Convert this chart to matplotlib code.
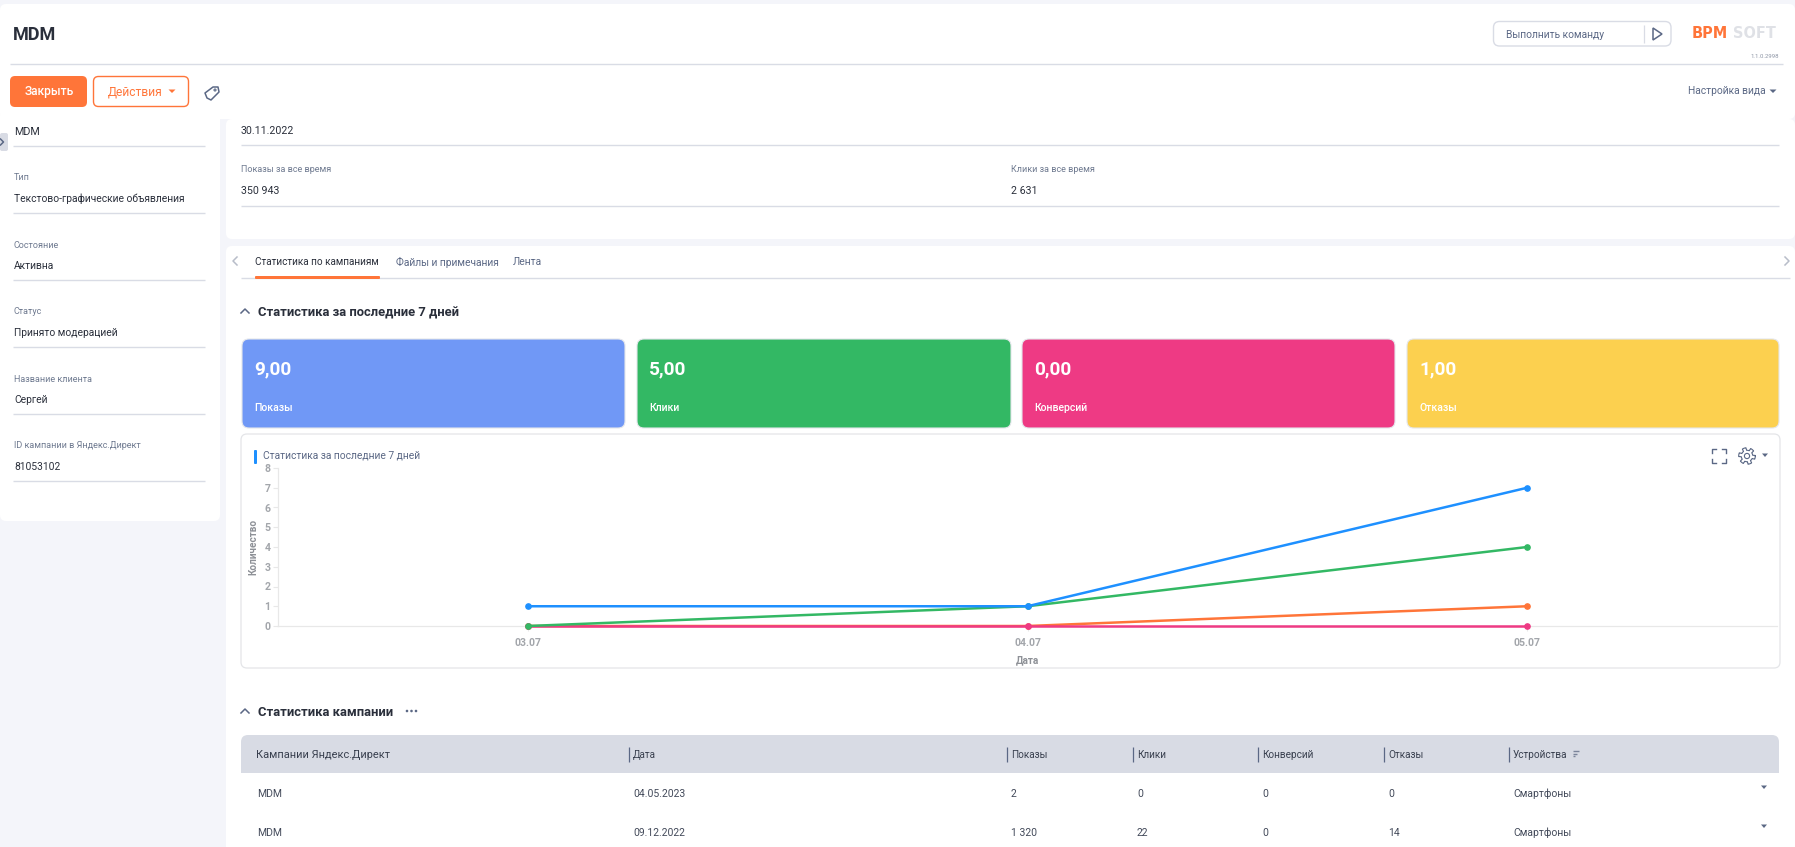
import numpy as np
import matplotlib
matplotlib.use('Agg')
import matplotlib.pyplot as plt
from matplotlib.patches import FancyBboxPatch, Rectangle, Circle, Polygon

plt.rcParams['font.family'] = ['Roboto', 'DejaVu Sans']

W = 1795
H = 847

# chart data
dates = ['03.07', '04.07', '05.07']
shows = [1, 1, 7]
clicks = [0, 1, 4]
bounces = [0, 0, 1]
conversions = [0, 0, 0]
y_ticks = [0, 1, 2, 3, 4, 5, 6, 7, 8]

# cards
card_values = ['9,00', '5,00', '0,00', '1,00']
card_names = ['Показы', 'Клики', 'Конверсий', 'Отказы']

# left form
form_labels = ['Тип', 'Состояние', 'Статус', 'Название клиента', 'ID кампании в Яндекс.Директ']
form_values = ['Текстово-графические объявления', 'Активна', 'Принято модерацией', 'Сергей', '81053102']

# table
table_columns = ['Кампании Яндекс.Директ', 'Дата', 'Показы', 'Клики', 'Конверсий', 'Отказы', 'Устройства']
table_rows = [
    ['MDM', '04.05.2023', '2', '0', '0', '0', 'Смартфоны'],
    ['MDM', '09.12.2022', '1 320', '22', '0', '14', 'Смартфоны'],
]

BG = '#f4f5fa'
LINE = '#d9dce5'
TEXT = '#2a2f3b'
MUTED = '#6f7a90'
SLATE = '#5b6885'
ORANGE = '#ff7539'
HEAD = '#d8dbe4'


def pt(px):
    return px * 0.72


fig = plt.figure(figsize=(W / 100, H / 100), dpi=100, facecolor=BG)
ui = fig.add_axes([0, 0, 1, 1])
ui.set_xlim(0, W)
ui.set_ylim(H, 0)
ui.axis('off')


def box(x0, y0, x1, y1, color, r=0, edge='none', lw=0, z=1):
    if r == 0:
        p = Rectangle((x0, y0), x1 - x0, y1 - y0, fc=color, ec=edge, lw=lw, zorder=z)
    else:
        p = FancyBboxPatch((x0, y0), x1 - x0, y1 - y0, boxstyle='round,pad=0,rounding_size=%s' % r,
                           fc=color, ec=edge, lw=lw, zorder=z)
    ui.add_patch(p)


def label(x, y, s, px=12, color=TEXT, weight='normal', ha='left', family=None):
    ui.text(x, y + 1, s, fontsize=pt(px), color=color, fontweight=weight, ha=ha, va='center', zorder=5,
            family=family)


def hline(x0, x1, y, color=LINE, lw=1.0):
    ui.plot([x0, x1], [y, y], color=color, lw=lw, zorder=3, solid_capstyle='butt')


def vline(x, y0, y1, color=SLATE, lw=0.9):
    ui.plot([x, x], [y0, y1], color=color, lw=lw, zorder=3, solid_capstyle='butt')


def caret(x, y, color=SLATE, s=3.5):
    ui.add_patch(Polygon([(x - s, y - 1.5), (x + s, y - 1.5), (x, y + 2)], fc=color, ec='none', zorder=5))


def chevron(x, y, kind, color=SLATE, s=4, lw=1.1):
    if kind == 'up':
        pts = [(x - s, y + s / 2), (x, y - s / 2), (x + s, y + s / 2)]
    elif kind == 'left':
        pts = [(x + s / 2, y - s), (x - s / 2, y), (x + s / 2, y + s)]
    else:
        pts = [(x - s / 2, y - s), (x + s / 2, y), (x - s / 2, y + s)]
    ui.plot([p[0] for p in pts], [p[1] for p in pts], color=color, lw=lw, zorder=5)


# panels
box(0, 4, W, 119, 'white', r=6)
box(0, 110, 220, 521, 'white', r=6)
box(226, 119, W, 239, 'white', r=6)
box(226, 246, W, H + 10, 'white', r=6)

# header
label(13, 34, 'MDM', px=18, weight='bold')
hline(10, 1783, 64)
box(10, 76, 87, 107, ORANGE, r=5, z=2)
label(49, 90.5, 'Закрыть', px=12, color='white', weight='medium', ha='center')
box(93.5, 76.5, 188.5, 106.5, 'white', r=5, edge=ORANGE, lw=1.0, z=2)
label(108, 90.5, 'Действия', px=12, color=ORANGE)
caret(172, 91, color=ORANGE)

# tag icon
tag = np.array([[205, 93], [213, 87], [218, 87], [219, 92], [211, 100], [207, 98]])
ui.add_patch(Polygon(tag, fc='none', ec=SLATE, lw=1.1, zorder=5, joinstyle='round'))
ui.add_patch(Circle((215, 90), 1.0, fc='none', ec=SLATE, lw=0.8, zorder=5))

# command box and logo
box(1493.5, 21.5, 1671, 46, 'white', r=6, edge=LINE, lw=1.0, z=2)
label(1506, 33.5, 'Выполнить команду', px=10.2, color=SLATE)
vline(1644, 25, 43, color=LINE)
ui.add_patch(Polygon([(1653, 28), (1662, 34), (1653, 40)], fc='none', ec=SLATE, lw=1.1, zorder=5))
label(1692, 32, 'BPM', px=14.5, color=ORANGE, weight='bold', family='DejaVu Sans')
label(1733, 32, 'SOFT', px=14.5, color='#dfe1e6', weight='bold', family='DejaVu Sans')
label(1779, 56, '1.1.0.2998', px=6, color='#8d95a5', ha='right')
label(1688, 90.5, 'Настройка вида', px=10.3, color=SLATE)
caret(1773, 91, color=SLATE)

# left form
box(0, 133, 8, 151, '#d8dbe4', r=2, z=2)
chevron(2, 142, 'right', s=3)
label(14, 131, 'MDM', px=10.8)
hline(13, 205, 146)
for i in range(len(form_labels)):
    y = 177 + i * 67
    label(14, y, form_labels[i], px=9, color=MUTED)
    label(14, y + 21, form_values[i], px=10.3)
    hline(13, 205, y + 36)

# top fields
label(241, 130, '30.11.2022', px=10.6)
hline(241, 1779, 145)
label(241, 169, 'Показы за все время', px=9, color=MUTED)
label(241, 190, '350 943', px=10.6)
label(1011, 169, 'Клики за все время', px=9, color=MUTED)
label(1011, 190, '2 631', px=10.6)
hline(241, 1779, 206)

# tabs
chevron(235, 261, 'left', color='#b8bdc9')
chevron(1787, 261, 'right', color='#b8bdc9')
label(255, 261, 'Статистика по кампаниям', px=10, color=TEXT)
label(396, 261, 'Файлы и примечания', px=10.3, color=SLATE)
label(513, 261, 'Лента', px=10.3, color=SLATE)
hline(241, 1790, 278)
box(255, 276, 380, 279, ORANGE, r=1, z=4)

# section 1
chevron(245, 311, 'up', color=SLATE)
label(258, 312, 'Статистика за последние 7 дней', px=13, weight='bold')

# cards
card_x = [(242, 625), (637, 1011), (1022, 1395), (1407, 1779)]
card_colors = ['#7098f6', '#33b864', '#ee3a84', '#fcd04f']
for i in range(4):
    x0, x1 = card_x[i]
    box(x0, 339, x1, 428, card_colors[i], r=7, edge='#e4e6eb', lw=0.8, z=2)
    label(x0 + 12, 368, card_values[i], px=19, color='white', weight='bold')
    label(x0 + 12, 407, card_names[i], px=10.5, color='white', weight='medium')

# chart panel
box(241, 434, 1780, 668, 'white', r=6, edge='#e4e5e8', lw=0.9, z=2)
box(254, 450, 257, 464, '#1e90ff', r=1, z=4)
label(263, 455, 'Статистика за последние 7 дней', px=10.2, color=SLATE)

# fullscreen icon
for cx, cy in [(-1, -1), (1, -1), (-1, 1), (1, 1)]:
    xc = 1719 + cx * 7
    yc = 456 + cy * 7
    ui.plot([xc - cx * 4, xc, xc], [yc, yc, yc - cy * 4], color=SLATE, lw=1.0, zorder=5)

# gear icon
ang = np.linspace(0, 2 * np.pi, 97)
rad = 7 + 1.3 * np.sign(np.sin(ang * 6 + 0.5))
ui.plot(1747 + rad * np.cos(ang), 456 + rad * np.sin(ang), color=SLATE, lw=0.8, zorder=5)
ui.add_patch(Circle((1747, 456), 2.6, fc='none', ec=SLATE, lw=0.8, zorder=5))
caret(1765, 455, color=SLATE, s=3)

# line chart
ax = fig.add_axes([278 / W, (H - 626) / H, (1777 - 278) / W, 158 / H], facecolor='none')
ax.set_zorder(3)
x = np.arange(len(dates))
ax.plot(x, bounces, color='#ff7539', lw=1.8, marker='o', ms=3.8, clip_on=False, zorder=3)
ax.plot(x, conversions, color='#ee3a84', lw=1.8, marker='o', ms=3.8, clip_on=False, zorder=3)
ax.plot(x, clicks, color='#33b864', lw=1.8, marker='o', ms=3.8, clip_on=False, zorder=3)
ax.plot(x, shows, color='#1e90ff', lw=1.8, marker='o', ms=3.8, clip_on=False, zorder=3)
ax.set_xlim(-0.5, 2.5)
ax.set_ylim(0, 8)
ax.set_xticks(x, labels=dates, fontweight='bold')
ax.set_yticks(y_ticks, labels=[str(v) for v in y_ticks], fontweight='bold')
for s in ['top', 'right']:
    ax.spines[s].set_visible(False)
for s in ['left', 'bottom']:
    ax.spines[s].set_color('#e8e8e8')
    ax.spines[s].set_linewidth(0.9)
ax.tick_params(axis='both', color='#e8e8e8', labelcolor='#a3a6ab', labelsize=pt(10.5), length=3.5, width=0.8, pad=2)
ax.tick_params(axis='x', pad=5)
ui.text(253, 547, 'Количество', fontsize=pt(10), color='#8e9197', fontweight='bold',
        rotation=90, ha='center', va='center', zorder=5)
label(1027, 659, 'Дата', px=10, color='#8e9197', weight='bold', ha='center')

# section 2
chevron(245, 711, 'up', color=SLATE)
label(258, 711, 'Статистика кампании', px=13, weight='bold')
for dx in [407, 411.5, 416]:
    ui.add_patch(Circle((dx, 711), 1.3, fc=SLATE, ec='none', zorder=5))

# table
box(241, 735, 1779, 765, HEAD, r=7, z=2)
box(241, 745, 1779, 773, HEAD, z=2)
col_x = [256, 633, 1011, 1137, 1262, 1388, 1513]
row_y = [793, 832]
for j in range(len(table_columns)):
    label(col_x[j], 753.5, table_columns[j], px=11 if j == 0 else 10, color='#39404f')
    if j > 0:
        vline(col_x[j] - 4, 747, 762)
    for r in range(len(table_rows)):
        label(col_x[j] + 1 if j == 0 else col_x[j], row_y[r], table_rows[r][j], px=10.4, color='#434a5a')
for k, w in enumerate([6, 4, 2]):
    hline(1573, 1573 + w, 751.5 + k * 2.5, color='#7b849a', lw=1.0)
caret(1764, 787, color=SLATE, s=3)
caret(1764, 826, color=SLATE, s=3)

fig.savefig('out.png', dpi=100, facecolor=BG)
